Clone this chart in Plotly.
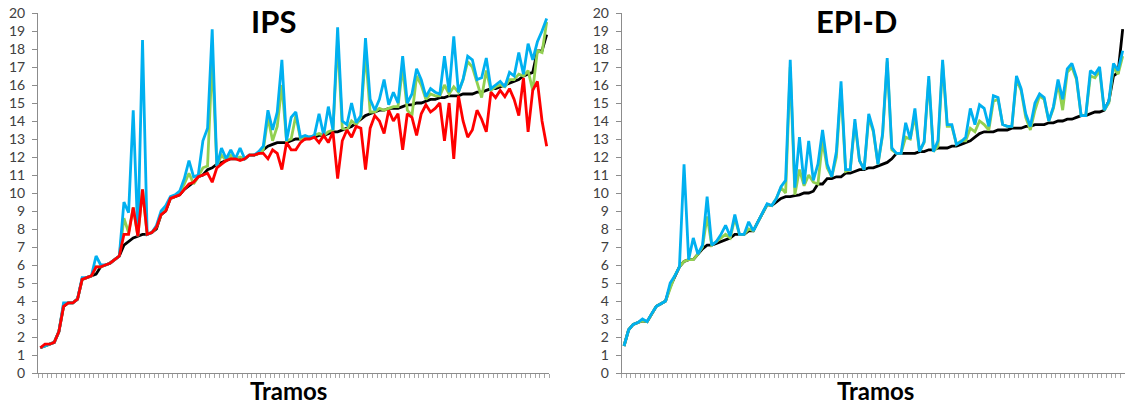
import plotly.graph_objects as go

# IPS panel series (one value per tramo)
ips_black = [1.4, 1.5, 1.6, 1.7, 2.3, 3.7, 3.9, 3.9, 4.1, 5.2,
             5.3, 5.4, 5.5, 5.9, 6.0, 6.1, 6.3, 6.5, 7.1, 7.3,
             7.5, 7.6, 7.7, 7.7, 7.8, 8.0, 8.8, 9.0, 9.7, 9.8,
             9.9, 10.2, 10.4, 10.6, 10.9, 11.0, 11.3, 11.4, 11.6, 11.7,
             11.8, 11.9, 11.9, 11.9, 11.9, 12.1, 12.1, 12.2, 12.4, 12.6,
             12.7, 12.8, 12.8, 12.8, 12.9, 13.0, 13.0, 13.0, 13.1, 13.1,
             13.2, 13.2, 13.3, 13.4, 13.4, 13.5, 13.6, 13.7, 13.9, 14.1,
             14.3, 14.4, 14.5, 14.6, 14.6, 14.7, 14.7, 14.7, 14.8, 14.9,
             14.9, 15.0, 15.0, 15.1, 15.2, 15.2, 15.3, 15.3, 15.4, 15.4,
             15.4, 15.5, 15.5, 15.5, 15.6, 15.6, 15.7, 15.8, 15.8, 15.9,
             16.0, 16.1, 16.2, 16.3, 16.5, 16.6, 16.7, 17.9, 17.9, 18.8]

ips_green = [1.4, 1.5, 1.6, 1.7, 2.3, 3.8, 3.9, 3.9, 4.1, 5.2,
             5.3, 5.4, 5.9, 5.9, 6.0, 6.1, 6.3, 6.5, 8.6, 7.8,
             9.2, 7.6, 10.2, 7.7, 7.8, 8.1, 8.8, 9.1, 9.7, 9.8,
             10.0, 10.5, 11.1, 10.5, 10.9, 11.4, 11.5, 17.5, 11.5, 12.1,
             11.8, 12.1, 11.9, 12.0, 11.9, 12.1, 12.1, 12.2, 12.4, 14.2,
             12.9, 13.7, 16.0, 12.9, 13.0, 14.3, 13.0, 13.1, 13.1, 13.2,
             13.3, 13.2, 13.4, 13.5, 18.5, 13.6, 13.5, 14.0, 13.8, 14.2,
             17.8, 14.5, 14.5, 14.7, 14.6, 14.7, 14.8, 14.8, 17.0, 14.6,
             14.3, 16.5, 16.0, 15.2, 15.5, 15.4, 15.4, 16.0, 15.5, 15.9,
             15.6, 16.3, 17.3, 17.0, 16.2, 15.3, 16.8, 15.7, 15.9, 16.0,
             15.9, 16.3, 16.3, 16.6, 16.5, 16.8, 15.7, 17.9, 17.8, 19.5]

ips_blue = [1.4, 1.5, 1.6, 1.7, 2.3, 3.9, 3.9, 3.9, 4.1, 5.3,
            5.3, 5.4, 6.5, 6.0, 6.0, 6.1, 6.3, 6.5, 9.5, 8.9,
            14.6, 7.6, 18.5, 7.7, 7.8, 8.2, 9.0, 9.3, 9.8, 9.9,
            10.1, 10.8, 11.8, 10.9, 11.0, 12.9, 13.6, 19.1, 11.5, 12.5,
            11.9, 12.4, 11.9, 12.5, 11.9, 12.1, 12.1, 12.3, 12.6, 14.6,
            13.5, 14.5, 17.4, 12.9, 14.2, 14.5, 13.1, 13.2, 13.1, 13.2,
            14.4, 13.2, 14.8, 13.5, 19.2, 14.0, 13.8, 15.0, 13.9, 14.3,
            18.6, 15.2, 14.6, 15.2, 16.3, 14.9, 15.6, 15.0, 17.6, 15.0,
            15.5, 16.9, 16.3, 15.35, 15.8, 15.6, 15.5, 17.6, 15.6, 18.7,
            15.6, 16.3, 17.6, 17.4, 16.3, 16.4, 17.5, 15.8, 16.0, 16.2,
            15.9, 16.7, 16.5, 17.8, 16.6, 18.3, 17.4, 18.4, 19.0, 19.7]

ips_red = [1.4, 1.6, 1.6, 1.7, 2.3, 3.7, 3.9, 3.9, 4.1, 5.2,
           5.3, 5.4, 5.9, 5.9, 6.0, 6.1, 6.3, 6.5, 7.7, 7.7,
           9.2, 7.6, 10.2, 7.7, 7.8, 8.1, 8.8, 9.0, 9.7, 9.8,
           9.9, 10.2, 10.5, 10.6, 10.9, 11.0, 11.1, 10.6, 11.4, 11.6,
           11.8, 11.9, 11.9, 11.8, 11.9, 12.1, 12.1, 12.2, 12.2, 11.9,
           12.4, 12.2, 11.3, 12.8, 12.4, 12.4, 12.8, 13.0, 13.0, 13.1,
           12.8, 13.2, 12.8, 13.4, 10.8, 12.9, 13.5, 13.1, 13.7, 13.6,
           11.3, 13.6, 14.3, 14.0, 13.3, 14.6, 14.0, 14.4, 12.4, 14.4,
           14.2, 13.2, 14.4, 14.9, 14.5, 14.7, 15.0, 12.9, 15.0, 11.9,
           15.4, 14.0, 13.1, 13.5, 14.6, 14.1, 13.4, 15.6, 15.3, 15.7,
           15.35, 15.8, 15.2, 14.3, 16.4, 13.4, 15.7, 16.2, 14.0, 12.6]

# EPI-D panel series
epi_black = [1.5, 2.4, 2.7, 2.8, 2.9, 2.85, 3.3, 3.7, 3.85, 4.0,
             4.8, 5.4, 5.9, 6.2, 6.3, 6.3, 6.6, 6.9, 7.1, 7.1,
             7.2, 7.3, 7.4, 7.5, 7.7, 7.7, 7.7, 7.9, 7.9, 8.4,
             8.9, 9.35, 9.3, 9.5, 9.7, 9.8, 9.8, 9.85, 9.9, 10.0,
             10.0, 10.1, 10.5, 10.5, 10.8, 10.8, 10.9, 10.9, 11.1, 11.1,
             11.2, 11.3, 11.3, 11.4, 11.4, 11.5, 11.6, 11.7, 11.9, 12.2,
             12.2, 12.2, 12.2, 12.2, 12.3, 12.3, 12.4, 12.4, 12.5, 12.5,
             12.5, 12.6, 12.6, 12.7, 12.8, 12.9, 13.1, 13.3, 13.4, 13.4,
             13.4, 13.5, 13.5, 13.5, 13.6, 13.6, 13.6, 13.7, 13.7, 13.8,
             13.8, 13.8, 13.9, 13.9, 14.0, 14.0, 14.1, 14.1, 14.2, 14.3,
             14.3, 14.4, 14.5, 14.5, 14.6, 15.1, 16.5, 16.7, 19.1]

epi_green = [1.5, 2.4, 2.7, 2.8, 2.9, 2.85, 3.3, 3.7, 3.85, 4.0,
             4.7, 5.4, 5.9, 6.2, 6.3, 6.3, 6.6, 7.0, 8.7, 7.1,
             7.3, 7.5, 7.7, 7.5, 8.6, 7.7, 7.7, 8.0, 7.9, 8.4,
             8.9, 9.35, 9.3, 9.7, 10.3, 10.0, 17.0, 9.9, 11.3, 10.4,
             11.0, 10.6, 10.5, 12.9, 11.4, 10.9, 12.0, 15.8, 11.2, 11.3,
             13.9, 11.8, 11.3, 14.2, 13.4, 11.6, 13.2, 17.3, 12.4, 12.2,
             12.2, 13.1, 13.0, 14.3, 12.3, 12.8, 16.3, 12.3, 12.6, 17.2,
             13.7, 13.7, 12.7, 12.9, 12.9, 13.6, 13.4, 14.0, 13.8, 13.5,
             15.1, 15.2, 13.8, 13.7, 13.7, 16.3, 15.7, 14.2, 13.5, 14.6,
             15.4, 15.2, 14.0, 14.7, 16.1, 14.6, 16.7, 17.0, 16.3, 14.3,
             14.3, 16.5, 16.4, 16.8, 14.6, 15.0, 17.0, 16.6, 17.6]

epi_blue = [1.5, 2.4, 2.7, 2.8, 3.0, 2.85, 3.3, 3.7, 3.85, 4.0,
            5.0, 5.4, 5.9, 11.6, 6.3, 7.5, 6.6, 7.1, 9.8, 7.1,
            7.3, 7.7, 8.2, 7.6, 8.8, 7.7, 7.7, 8.4, 7.9, 8.4,
            8.9, 9.4, 9.3, 9.7, 10.35, 10.7, 17.4, 10.3, 13.1, 10.5,
            12.9, 10.7, 11.6, 13.5, 11.6, 10.9, 12.3, 16.2, 11.3, 11.3,
            14.1, 11.8, 11.3, 14.4, 13.5, 11.6, 13.3, 17.5, 12.5, 12.2,
            12.2, 13.9, 13.0, 14.7, 12.3, 12.85, 16.5, 12.3, 12.9, 17.4,
            13.8, 13.8, 12.7, 12.85, 13.1, 14.7, 13.8, 14.9, 14.7, 13.7,
            15.4, 15.3, 13.8, 13.7, 13.7, 16.5, 15.8, 14.4, 13.7, 15.0,
            15.5, 15.3, 14.0, 14.8, 16.3, 15.2, 16.9, 17.2, 16.4, 14.3,
            14.3, 16.8, 16.6, 17.0, 14.6, 15.1, 17.2, 16.8, 17.9]

y_ticks = list(range(0, 21))

BLACK = "#000000"
GREEN = "#92D050"
BLUE = "#00B0F0"
RED = "#FF0000"
LW = 2.8

W, H = 1125, 407
ML, MR, MT, MB = 38, 0, 13, 34
PW, PH = W - ML - MR, H - MT - MB


def px_x(p):
    return (p - ML) / PW


def px_y(p):
    return (H - MB - p) / PH


fig = go.Figure()


def add_series(values, color, xa, ya):
    fig.add_trace(go.Scatter(
        x=list(range(len(values))), y=values, mode="lines",
        line=dict(color=color, width=LW),
        xaxis=xa, yaxis=ya, showlegend=False, hoverinfo="skip"))


# IPS panel
add_series(ips_black, BLACK, "x", "y")
add_series(ips_green, GREEN, "x", "y")
add_series(ips_blue, BLUE, "x", "y")
add_series(ips_red, RED, "x", "y")

# EPI-D panel
add_series(epi_black, BLACK, "x2", "y2")
add_series(epi_green, GREEN, "x2", "y2")
add_series(epi_blue, BLUE, "x2", "y2")

AXIS_GRAY = "#8C8C8C"
TICK_FONT = dict(family="Lato, Carlito, Calibri, sans-serif", size=14, color="#404040")


def x_axis(n, domain, anchor):
    return dict(domain=domain, anchor=anchor, range=[-0.5, n - 0.5],
                tickmode="linear", tick0=-0.5, dtick=1,
                ticks="outside", ticklen=4, tickcolor="#A6A6A6", tickwidth=1,
                showticklabels=False, showgrid=False, zeroline=False,
                showline=True, linecolor=AXIS_GRAY, linewidth=1,
                fixedrange=True)


def y_axis(anchor):
    return dict(anchor=anchor, domain=[0, 1], range=[0, 20],
                tickmode="array", tickvals=y_ticks,
                ticktext=[str(v) for v in y_ticks],
                ticks="outside", ticklen=5, tickcolor=AXIS_GRAY, tickwidth=1,
                ticklabelstandoff=4,
                tickfont=TICK_FONT, showgrid=False, zeroline=False,
                showline=True, linecolor=AXIS_GRAY, linewidth=1,
                fixedrange=True)


left_dom = [0.0, px_x(549)]
right_dom = [px_x(621.7), 1.0]

fig.update_layout(
    width=W, height=H,
    margin=dict(l=ML, r=MR, t=MT, b=MB, pad=0),
    paper_bgcolor="white", plot_bgcolor="white",
    xaxis=x_axis(len(ips_black), left_dom, "y"),
    yaxis=y_axis("x"),
    xaxis2=x_axis(len(epi_black), right_dom, "y2"),
    yaxis2=y_axis("x2"),
)

TITLE_FONT = dict(family="Lato, Carlito, Calibri, sans-serif", size=31, color="#000000")
AXT_FONT = dict(family="Lato, Carlito, Calibri, sans-serif", size=24, color="#000000")

# chart titles
for txt, cx in [("<b>IPS</b>", 273), ("<b>EPI-D</b>", 856)]:
    fig.add_annotation(text=txt, x=px_x(cx), y=px_y(21), xref="paper", yref="paper",
                       xanchor="center", yanchor="middle", showarrow=False,
                       font=TITLE_FONT)

# category axis titles, sitting on the bottom edge
for cx in (288, 875):
    fig.add_annotation(text="<b>Tramos</b>", x=px_x(cx), y=px_y(406.5),
                       xref="paper", yref="paper", xanchor="center",
                       yanchor="bottom", showarrow=False, font=AXT_FONT,
                       borderpad=0)

fig.write_html("out.html")
